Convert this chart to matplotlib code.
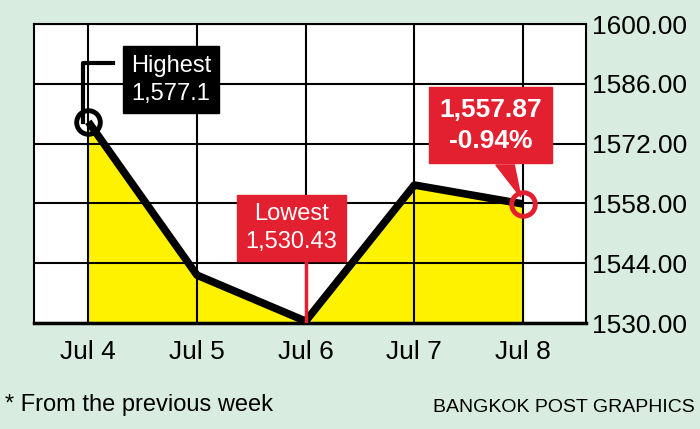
import matplotlib.pyplot as plt
import numpy as np

plt.rcParams['font.family'] = ['Liberation Sans Narrow', 'Liberation Sans', 'DejaVu Sans']

days = ['Jul 4', 'Jul 5', 'Jul 6', 'Jul 7', 'Jul 8']
index = [1577.1, 1541.2, 1530.43, 1562.3, 1557.87]
yticks = [1530, 1544, 1558, 1572, 1586, 1600]

bg = '#d8ede0'
red = '#e3202f'
fig = plt.figure(figsize=(7, 4.29), dpi=100, facecolor=bg)
ax = fig.add_axes([34/700, 106/429, 552/700, 299/429])
x = np.arange(len(days))

ax.fill_between(x, index, 1530, color='#fff200', zorder=1)
ax.plot(x, index, color='black', lw=5.5, zorder=3, solid_capstyle='butt')
ax.plot(x[0], index[0], 'o', ms=17, mfc='none', mec='black', mew=3.5, zorder=4)
ax.plot(x[-1], index[-1], 'o', ms=17, mfc='none', mec=red, mew=3.5, zorder=4)

ax.set_xlim(-0.5, 4.58)
ax.set_ylim(1530, 1600)
ax.set_xticks(x)
ax.set_xticklabels(days, fontsize=19)
ax.set_yticks(yticks)
ax.set_yticklabels(['%.2f' % v for v in yticks], fontsize=19)
ax.yaxis.tick_right()
ax.tick_params(axis='x', length=0, pad=12)
ax.tick_params(axis='y', length=0, pad=4)
ax.grid(True, color='black', lw=1.5, zorder=2)
ax.set_axisbelow(False)
for s in ax.spines.values():
    s.set_linewidth(1.5)
ax.spines['bottom'].set_linewidth(2.5)

# highest
ax.plot([-0.05, -0.05, 0.23], [index[0], 1590.9, 1590.9], color='black', lw=3, zorder=4)
ax.text(0.76, 1587, 'Highest\n1,577.1', color='white', fontsize=17, ha='center', va='center',
        linespacing=1.35, zorder=6,
        bbox=dict(boxstyle='square,pad=0.35', fc='black', ec='black'))
# lowest
ax.plot([2, 2], [1544, index[2]], color=red, lw=2.5, zorder=4)
ax.text(1.87, 1552.3, 'Lowest\n1,530.43', color='white', fontsize=17, ha='center', va='center',
        linespacing=1.35, zorder=6,
        bbox=dict(boxstyle='square,pad=0.35', fc=red, ec=red))
# last
ax.fill([3.75, 3.92, 3.98], [1567, 1567, 1559.5], color=red, zorder=5)
ax.text(3.7, 1576.3, '1,557.87\n-0.94%', color='white', fontsize=19, fontweight='bold',
        ha='center', va='center', linespacing=1.35, zorder=6,
        bbox=dict(boxstyle='square,pad=0.4', fc=red, ec=red))

fig.text(5/700, 1 - 405/429, '* From the previous week', fontsize=17, va='center')
fig.text(695/700, 1 - 408/429, 'BANGKOK POST GRAPHICS', fontsize=14, va='center', ha='right')

fig.savefig('out.png', dpi=100, facecolor=bg)
